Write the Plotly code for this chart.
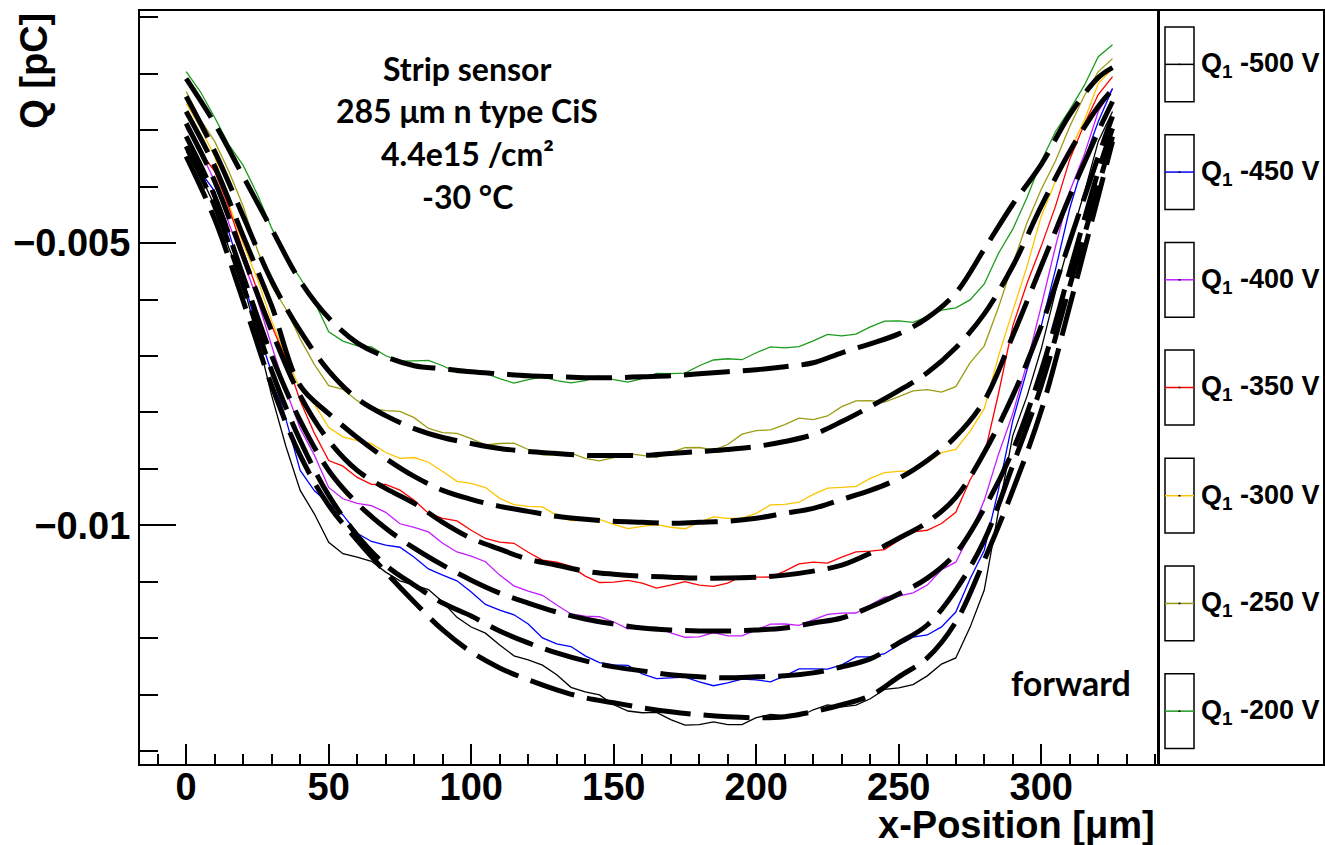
import plotly.graph_objects as go

# ---------------- data (x in um, Q in pC) ----------------
# measured scans (5 um sampling)
x_meas = [0, 5, 10, 15, 20, 25, 30, 35, 40, 45, 50, 55, 60, 65, 70, 75, 80, 85, 90, 95,
          100, 105, 110, 115, 120, 125, 130, 135, 140, 145, 150, 155, 160, 165, 170, 175,
          180, 185, 190, 195, 200, 205, 210, 215, 220, 225, 230, 235, 240, 245, 250, 255,
          260, 265, 270, 275, 280, 285, 290, 295, 300, 305, 310, 315, 320, 325]
# fit curves (10 um sampling)
x_fit = [0, 10, 20, 30, 40, 50, 60, 70, 80, 90, 100, 110, 120, 130, 140, 150, 160,
         170, 180, 190, 200, 210, 220, 230, 240, 250, 260, 270, 280, 290, 300, 310, 320, 325]

voltages = ["-500 V", "-450 V", "-400 V", "-350 V", "-300 V", "-250 V", "-200 V"]
colors = ["#000000", "#0000ff", "#c41cff", "#ff0000", "#ffc400", "#9c9c14", "#1c9c1c"]

q_200 = [-0.001961, -0.002318, -0.002774, -0.003258, -0.003622, -0.004139, -0.004735, -0.005247, -0.005618, -0.006035,
         -0.006572, -0.006736, -0.006820, -0.006838, -0.006996, -0.007091, -0.007085, -0.007079, -0.007173, -0.007295,
         -0.007297, -0.007310, -0.007403, -0.007482, -0.007420, -0.007369, -0.007438, -0.007478, -0.007438, -0.007359,
         -0.007420, -0.007462, -0.007403, -0.007309, -0.007314, -0.007304, -0.007173, -0.007071, -0.007049, -0.007066,
         -0.006943, -0.006839, -0.006855, -0.006833, -0.006731, -0.006617, -0.006643, -0.006614, -0.006484, -0.006381,
         -0.006378, -0.006403, -0.006307, -0.006188, -0.006148, -0.006006, -0.005724, -0.005179, -0.004753, -0.004192,
         -0.003551, -0.003022, -0.002633, -0.002215, -0.001696, -0.001484]
q_250 = [-0.002314, -0.002816, -0.003198, -0.003732, -0.004346, -0.005123, -0.005760, -0.006168, -0.006696, -0.007152,
         -0.007527, -0.007590, -0.007792, -0.007930, -0.007968, -0.007980, -0.008092, -0.008285, -0.008357, -0.008370,
         -0.008463, -0.008577, -0.008551, -0.008544, -0.008657, -0.008750, -0.008763, -0.008720, -0.008816, -0.008858,
         -0.008799, -0.008731, -0.008763, -0.008797, -0.008710, -0.008626, -0.008622, -0.008666, -0.008569, -0.008386,
         -0.008322, -0.008309, -0.008216, -0.008102, -0.008127, -0.008063, -0.007898, -0.007795, -0.007792, -0.007817,
         -0.007721, -0.007619, -0.007597, -0.007641, -0.007544, -0.007122, -0.006820, -0.006136, -0.005371, -0.004639,
         -0.004046, -0.003540, -0.002933, -0.002397, -0.001961, -0.001731]
q_300 = [-0.002526, -0.002955, -0.003463, -0.004311, -0.005018, -0.005638, -0.006378, -0.007019, -0.007580, -0.007855,
         -0.008269, -0.008434, -0.008498, -0.008554, -0.008710, -0.008815, -0.008799, -0.008883, -0.009046, -0.009222,
         -0.009258, -0.009331, -0.009523, -0.009634, -0.009664, -0.009674, -0.009823, -0.009918, -0.009912, -0.009897,
         -0.009982, -0.010060, -0.010018, -0.009987, -0.010035, -0.010061, -0.009947, -0.009852, -0.009876, -0.009872,
         -0.009788, -0.009639, -0.009629, -0.009591, -0.009452, -0.009341, -0.009329, -0.009310, -0.009170, -0.009068,
         -0.009046, -0.009037, -0.008887, -0.008712, -0.008657, -0.008335, -0.007933, -0.006997, -0.006201, -0.005412,
         -0.004523, -0.003899, -0.003375, -0.002834, -0.002173, -0.001908]
q_350 = [-0.002898, -0.003383, -0.003728, -0.004375, -0.005141, -0.005844, -0.006466, -0.007059, -0.007792, -0.008372,
         -0.008852, -0.008952, -0.009152, -0.009274, -0.009276, -0.009377, -0.009558, -0.009787, -0.009876, -0.009922,
         -0.010088, -0.010234, -0.010300, -0.010319, -0.010477, -0.010616, -0.010654, -0.010728, -0.010901, -0.011014,
         -0.011007, -0.010976, -0.011025, -0.011113, -0.011060, -0.011000, -0.011060, -0.011083, -0.011025, -0.010902,
         -0.010919, -0.010916, -0.010813, -0.010684, -0.010654, -0.010670, -0.010565, -0.010472, -0.010459, -0.010432,
         -0.010265, -0.010117, -0.010088, -0.009969, -0.009770, -0.009197, -0.008763, -0.007665, -0.006466, -0.005710,
         -0.005053, -0.004345, -0.003516, -0.002902, -0.002367, -0.002049]
q_400 = [-0.002968, -0.003377, -0.003905, -0.004652, -0.005318, -0.005999, -0.006820, -0.007603, -0.008286, -0.008758,
         -0.009329, -0.009530, -0.009611, -0.009651, -0.009770, -0.009973, -0.010035, -0.010117, -0.010318, -0.010473,
         -0.010548, -0.010646, -0.010883, -0.011075, -0.011166, -0.011240, -0.011413, -0.011571, -0.011608, -0.011621,
         -0.011714, -0.011837, -0.011820, -0.011804, -0.011908, -0.011984, -0.011979, -0.011900, -0.011961, -0.011958,
         -0.011855, -0.011752, -0.011749, -0.011774, -0.011678, -0.011577, -0.011555, -0.011554, -0.011413, -0.011274,
         -0.011254, -0.011197, -0.011060, -0.010787, -0.010654, -0.010156, -0.009558, -0.008740, -0.008021, -0.007127,
         -0.006113, -0.005057, -0.004081, -0.003445, -0.002668, -0.002261]
q_450 = [-0.003286, -0.003734, -0.004081, -0.004809, -0.005636, -0.006527, -0.007297, -0.008123, -0.009028, -0.009390,
         -0.009611, -0.009816, -0.010141, -0.010287, -0.010353, -0.010389, -0.010565, -0.010774, -0.010883, -0.010984,
         -0.011184, -0.011403, -0.011502, -0.011586, -0.011749, -0.011996, -0.012102, -0.012148, -0.012314, -0.012434,
         -0.012473, -0.012483, -0.012632, -0.012718, -0.012703, -0.012689, -0.012774, -0.012843, -0.012792, -0.012725,
         -0.012738, -0.012773, -0.012668, -0.012546, -0.012544, -0.012549, -0.012473, -0.012333, -0.012332, -0.012276,
         -0.012120, -0.011982, -0.011944, -0.011801, -0.011537, -0.010950, -0.010442, -0.009364, -0.008145, -0.007246,
         -0.006466, -0.005464, -0.004382, -0.003544, -0.002845, -0.002261]
q_500 = [-0.003375, -0.003791, -0.004346, -0.005085, -0.005724, -0.006664, -0.007703, -0.008603, -0.009382, -0.009801,
         -0.010300, -0.010503, -0.010565, -0.010638, -0.010830, -0.010985, -0.011060, -0.011140, -0.011360, -0.011631,
         -0.011802, -0.011911, -0.012120, -0.012313, -0.012385, -0.012478, -0.012650, -0.012871, -0.012951, -0.013006,
         -0.013180, -0.013291, -0.013322, -0.013314, -0.013445, -0.013540, -0.013534, -0.013484, -0.013534, -0.013532,
         -0.013410, -0.013353, -0.013375, -0.013392, -0.013269, -0.013183, -0.013216, -0.013185, -0.013074, -0.012907,
         -0.012880, -0.012824, -0.012668, -0.012459, -0.012350, -0.011809, -0.011148, -0.009739, -0.008410, -0.007712,
         -0.006873, -0.005859, -0.004965, -0.004122, -0.003198, -0.002668]

fit_200 = [-0.002085, -0.002880, -0.003816, -0.004753, -0.005671, -0.006325, -0.006767, -0.007014,
           -0.007173, -0.007226, -0.007279, -0.007315, -0.007350, -0.007367, -0.007385, -0.007385,
           -0.007367, -0.007350, -0.007315, -0.007279, -0.007244, -0.007191, -0.007120, -0.006943,
           -0.006784, -0.006608, -0.006325, -0.005883, -0.005106, -0.004311, -0.003604, -0.002721,
           -0.002067, -0.001890]
fit_250 = [-0.002403, -0.003375, -0.004523, -0.005671, -0.006555, -0.007262, -0.007756, -0.008057,
           -0.008286, -0.008445, -0.008551, -0.008640, -0.008693, -0.008728, -0.008763, -0.008763,
           -0.008763, -0.008728, -0.008693, -0.008657, -0.008604, -0.008516, -0.008392, -0.008163,
           -0.007898, -0.007615, -0.007297, -0.006855, -0.006254, -0.005406, -0.004346, -0.003375,
           -0.002579, -0.002279]
fit_300 = [-0.002668, -0.003640, -0.004876, -0.006113, -0.007527, -0.008021, -0.008445, -0.008816,
           -0.009134, -0.009382, -0.009541, -0.009664, -0.009753, -0.009841, -0.009894, -0.009929,
           -0.009947, -0.009965, -0.009947, -0.009929, -0.009876, -0.009788, -0.009700, -0.009541,
           -0.009382, -0.009170, -0.008852, -0.008428, -0.007792, -0.006643, -0.005406, -0.004170,
           -0.003021, -0.002491]
fit_350 = [-0.002880, -0.003905, -0.005230, -0.006555, -0.007703, -0.008498, -0.009028, -0.009346,
           -0.009611, -0.009947, -0.010230, -0.010424, -0.010601, -0.010707, -0.010813, -0.010866,
           -0.010901, -0.010919, -0.010936, -0.010936, -0.010919, -0.010883, -0.010813, -0.010707,
           -0.010495, -0.010230, -0.009947, -0.009505, -0.008710, -0.007703, -0.006466, -0.004965,
           -0.003463, -0.002756]
fit_400 = [-0.003110, -0.004170, -0.005583, -0.006996, -0.008145, -0.009028, -0.009611, -0.010053,
           -0.010406, -0.010707, -0.010972, -0.011201, -0.011378, -0.011537, -0.011661, -0.011749,
           -0.011820, -0.011855, -0.011873, -0.011873, -0.011855, -0.011820, -0.011731, -0.011643,
           -0.011449, -0.011219, -0.010936, -0.010495, -0.009700, -0.008675, -0.007262, -0.005495,
           -0.003728, -0.002968]
fit_450 = [-0.003286, -0.004346, -0.005760, -0.007262, -0.008498, -0.009470, -0.010177, -0.010707,
           -0.011060, -0.011378, -0.011608, -0.011873, -0.012085, -0.012261, -0.012403, -0.012509,
           -0.012580, -0.012650, -0.012686, -0.012703, -0.012686, -0.012668, -0.012615, -0.012509,
           -0.012367, -0.012085, -0.011767, -0.011148, -0.010265, -0.008940, -0.007527, -0.005760,
           -0.003993, -0.003110]
fit_500 = [-0.003463, -0.004576, -0.006025, -0.007527, -0.008763, -0.009647, -0.010265, -0.010830,
           -0.011360, -0.011855, -0.012244, -0.012527, -0.012738, -0.012915, -0.013057, -0.013145,
           -0.013233, -0.013304, -0.013357, -0.013392, -0.013410, -0.013392, -0.013304, -0.013180,
           -0.013021, -0.012686, -0.012350, -0.011714, -0.010618, -0.009382, -0.007968, -0.006113,
           -0.004170, -0.003198]

measured = [q_500, q_450, q_400, q_350, q_300, q_250, q_200]
fits = [fit_500, fit_450, fit_400, fit_350, fit_300, fit_250, fit_200]

x_range = [-16.2, 340.6]
y_range = [-0.01423, -0.000887]

# ---------------- figure ----------------
W, H = 1325, 845
L, R, T, B = 140, 1157, 9, 764


def px_x(p):
    return (p - L) / (R - L)


def px_y(p):
    return (B - p) / (B - T)


fig = go.Figure()

for q, c in zip(measured[::-1], colors[::-1]):
    fig.add_trace(go.Scatter(x=x_meas, y=q, mode="lines",
                             line=dict(color=c, width=1.3),
                             showlegend=False, hoverinfo="skip"))

for f in fits:
    fig.add_trace(go.Scatter(x=x_fit, y=f, mode="lines",
                             line=dict(color="black", width=5, dash="46px,13px",
                                       shape="spline", smoothing=1.0),
                             showlegend=False, hoverinfo="skip"))

tick_font = dict(family="Liberation Sans, Arial", size=38, color="black", weight="bold")

fig.update_layout(
    width=W, height=H,
    margin=dict(l=L, r=W - R, t=T, b=H - B),
    paper_bgcolor="white", plot_bgcolor="white",
    showlegend=False,
    xaxis=dict(range=x_range, showgrid=False, zeroline=False,
               showline=True, linecolor="black", linewidth=2, mirror=True,
               ticks="inside", ticklen=20, tickwidth=1.5, tickcolor="black",
               dtick=50, tick0=0, tickfont=tick_font, ticklabelstandoff=-12,
               minor=dict(dtick=10, tick0=0, ticks="inside", ticklen=10,
                          tickwidth=1.5, tickcolor="black")),
    yaxis=dict(range=y_range, showgrid=False, zeroline=False,
               showline=True, linecolor="black", linewidth=2, mirror=True,
               ticks="inside", ticklen=36, tickwidth=1.5, tickcolor="black",
               dtick=0.005, tick0=0, tickfont=tick_font,
               minor=dict(dtick=0.001, tick0=0, ticks="inside", ticklen=18,
                          tickwidth=1.5, tickcolor="black")),
)

annotations = []
annotations.append(dict(xref="paper", yref="paper", x=px_x(1157), y=px_y(825),
                        xanchor="right", yanchor="middle", showarrow=False,
                        text="x-Position [\u03bcm]",
                        font=dict(family="Liberation Sans, Arial", size=38,
                                  color="black", weight="bold")))
annotations.append(dict(xref="paper", yref="paper", x=px_x(34), y=px_y(69),
                        xanchor="center", yanchor="middle", showarrow=False,
                        textangle=-90, text="Q [pC]",
                        font=dict(family="Liberation Sans, Arial", size=38,
                                  color="black", weight="bold")))

info_font = dict(family="Lato", size=32, color="black", weight="bold")
for txt, yy in [("Strip sensor", 67), ("285 \u03bcm n type CiS", 109),
                ("4.4e15 /cm\u00b2", 152), ("-30 \u00b0C", 195)]:
    annotations.append(dict(xref="paper", yref="paper", x=px_x(467), y=px_y(yy),
                            xanchor="center", yanchor="middle", showarrow=False,
                            text=txt, font=info_font))
annotations.append(dict(xref="paper", yref="paper", x=px_x(1071), y=px_y(682),
                        xanchor="center", yanchor="middle", showarrow=False,
                        text="forward",
                        font=dict(family="Lato", size=34, color="black", weight="bold")))

shapes = []
shapes.append(dict(type="rect", xref="paper", yref="paper",
                   x0=px_x(1159), x1=px_x(1324), y0=px_y(765), y1=px_y(8),
                   line=dict(color="black", width=2), fillcolor="white", layer="above"))
leg_centers = [62.5, 170.5, 278.5, 386.5, 495, 603, 711]
for v, c, yc in zip(voltages, colors, leg_centers):
    shapes.append(dict(type="rect", xref="paper", yref="paper",
                       x0=px_x(1165), x1=px_x(1194), y0=px_y(yc + 37.5), y1=px_y(yc - 37.5),
                       line=dict(color="black", width=1.5), layer="above"))
    shapes.append(dict(type="line", xref="paper", yref="paper",
                       x0=px_x(1165), x1=px_x(1194), y0=px_y(yc), y1=px_y(yc),
                       line=dict(color=c, width=1.5), layer="above"))
    shapes.append(dict(type="line", xref="paper", yref="paper",
                       x0=px_x(1178.5), x1=px_x(1180.5), y0=px_y(yc), y1=px_y(yc),
                       line=dict(color="black", width=1.5), layer="above"))
    annotations.append(dict(xref="paper", yref="paper", x=px_x(1199), y=px_y(yc + 1),
                            xanchor="left", yanchor="middle", showarrow=False,
                            text="Q<sub>1</sub> " + v,
                            font=dict(family="Liberation Sans, Arial", size=27,
                                      color="black", weight="bold")))

fig.update_layout(annotations=annotations, shapes=shapes)

fig.write_html("out.html")
